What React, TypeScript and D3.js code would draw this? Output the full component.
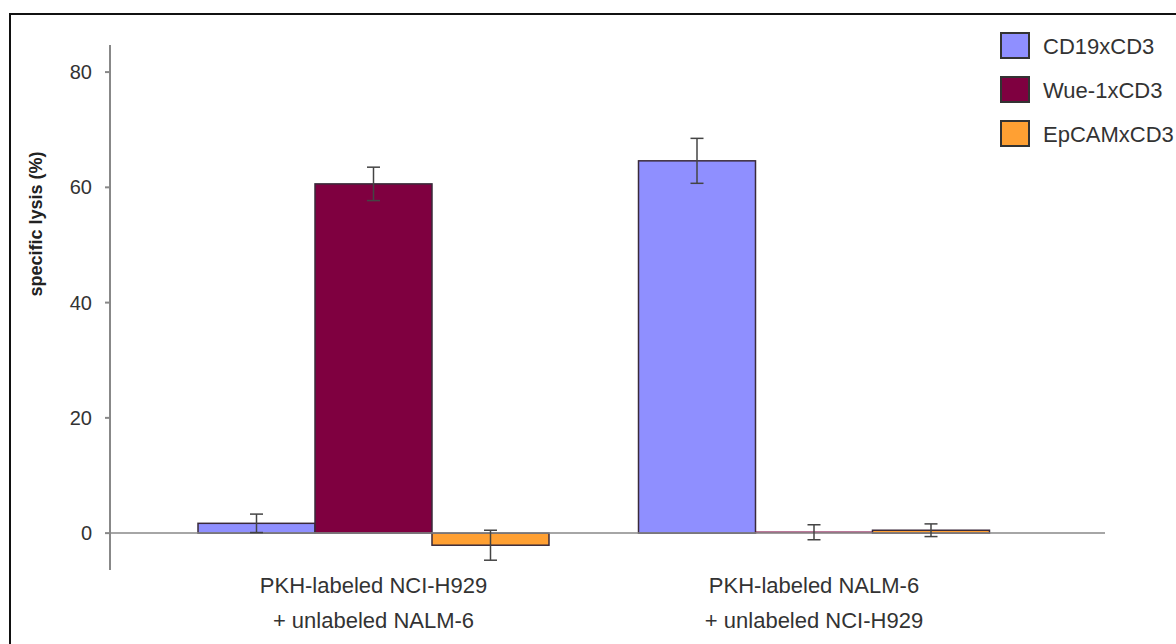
import React from "react";
import * as d3 from "d3";

const categories = ["g1", "g2"];
const categoryLine1 = ["PKH-labeled NCI-H929", "PKH-labeled NALM-6"];
const categoryLine2 = ["+ unlabeled NALM-6", "+ unlabeled NCI-H929"];
const seriesNames = ["CD19xCD3", "Wue-1xCD3", "EpCAMxCD3"];
const seriesColors = ["#8f8fff", "#7f0040", "#ffa033"];
const cd19Values = [1.7, 64.6];
const wueValues = [60.6, 0.15];
const epcamValues = [-2.1, 0.5];
const cd19Errors = [1.6, 3.9];
const wueErrors = [2.9, 1.3];
const epcamErrors = [2.6, 1.1];
const yTicks = [0, 20, 40, 60, 80];

const W = 1176;
const H = 644;

export default function App() {
  const values = [cd19Values, wueValues, epcamValues];
  const errors = [cd19Errors, wueErrors, epcamErrors];
  const y = d3.scaleLinear().domain([-6.4, 84.7]).range([570, 45]);
  const x0 = d3
    .scaleBand<string>()
    .domain(categories)
    .range([153.25, 1034.25])
    .paddingInner(0.2032)
    .paddingOuter(0.1016);
  const x1 = d3
    .scaleBand<string>()
    .domain(seriesNames)
    .range([0, x0.bandwidth()])
    .padding(0);
  const axisX = 110;
  const font = "'Liberation Sans', Arial, sans-serif";

  return (
    <svg
      width={W}
      height={H}
      style={{ position: "absolute", left: 0, top: 0, background: "#fff" }}
    >
      <rect x={0} y={0} width={W} height={H} fill="#fff" />
      <rect x={10} y={14} width={W + 20} height={H + 20} fill="none" stroke="#111" strokeWidth={2} />

      {/* bars */}
      {seriesNames.map((s, si) =>
        categories.map((c, ci) => {
          const v = values[si][ci];
          const bx = (x0(c) ?? 0) + (x1(s) ?? 0);
          const top = y(Math.max(0, v));
          const bot = y(Math.min(0, v));
          const h = bot - top;
          const thin = h < 2;
          return (
            <rect
              key={s + c}
              x={bx}
              y={thin ? top - 1 : top}
              width={x1.bandwidth()}
              height={thin ? 2 : h}
              fill={seriesColors[si]}
              stroke={thin ? "none" : "#3a2a3a"}
              strokeWidth={1.5}
              opacity={thin ? 0.7 : 1}
            />
          );
        })
      )}

      {/* zero line */}
      <line x1={axisX} x2={1105} y1={y(0)} y2={y(0)} stroke="#888" strokeWidth={1.5} />

      {/* error bars */}
      {seriesNames.map((s, si) =>
        categories.map((c, ci) => {
          const v = values[si][ci];
          const e = errors[si][ci];
          const cx = (x0(c) ?? 0) + (x1(s) ?? 0) + x1.bandwidth() / 2;
          return (
            <g key={"e" + s + c} stroke="#444" strokeWidth={1.5}>
              <line x1={cx} x2={cx} y1={y(v + e)} y2={y(v - e)} />
              <line x1={cx - 6.5} x2={cx + 6.5} y1={y(v + e)} y2={y(v + e)} />
              <line x1={cx - 6.5} x2={cx + 6.5} y1={y(v - e)} y2={y(v - e)} />
            </g>
          );
        })
      )}

      {/* y axis */}
      <line x1={axisX} x2={axisX} y1={45} y2={570} stroke="#888" strokeWidth={2} />
      {yTicks.map((t) => (
        <g key={t}>
          <line x1={axisX - 5} x2={axisX} y1={y(t)} y2={y(t)} stroke="#888" strokeWidth={2} />
          <text
            x={92}
            y={y(t)}
            textAnchor="end"
            dominantBaseline="central"
            fontFamily={font}
            fontSize={20}
            fill="#333"
          >
            {t}
          </text>
        </g>
      ))}
      <text
        transform={`translate(36,${224}) rotate(-90)`}
        textAnchor="middle"
        dominantBaseline="central"
        fontFamily={font}
        fontSize={18}
        fontWeight="bold"
        fill="#222"
      >
        specific lysis (%)
      </text>

      {/* category labels */}
      {categories.map((c, ci) => {
        const cx = (x0(c) ?? 0) + x0.bandwidth() / 2;
        return (
          <g key={"l" + c} fontFamily={font} fontSize={22} fill="#333" textAnchor="middle">
            <text x={cx} y={585} dominantBaseline="central">
              {categoryLine1[ci]}
            </text>
            <text x={cx} y={620} dominantBaseline="central">
              {categoryLine2[ci]}
            </text>
          </g>
        );
      })}

      {/* legend */}
      {seriesNames.map((s, si) => (
        <g key={"lg" + s} transform={`translate(1001,${33 + si * 44})`}>
          <rect width={28} height={25} fill={seriesColors[si]} stroke="#333" strokeWidth={2} />
          <text
            x={42}
            y={13}
            dominantBaseline="central"
            fontFamily={font}
            fontSize={22}
            fill="#333"
          >
            {s}
          </text>
        </g>
      ))}
    </svg>
  );
}
